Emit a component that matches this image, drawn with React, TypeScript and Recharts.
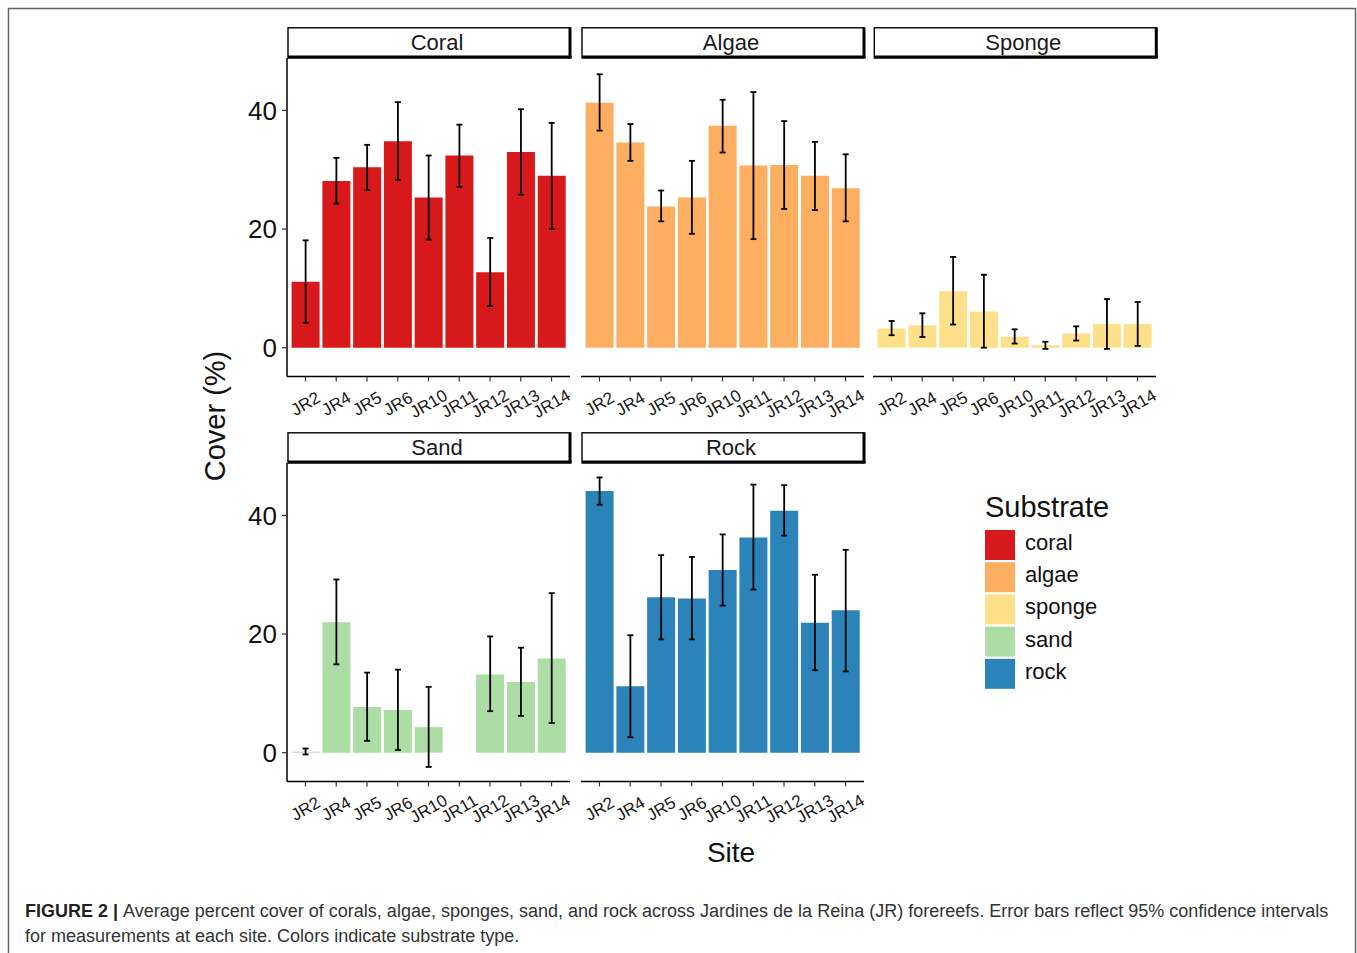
import { Bar, BarChart, ErrorBar, XAxis, YAxis } from "recharts";

const FONT = "'Liberation Sans', Arial, Helvetica, sans-serif";

const sites = ["JR2", "JR4", "JR5", "JR6", "JR10", "JR11", "JR12", "JR13", "JR14"];
const yTicks = [0, 20, 40];

// mean cover (%) and 95% CI bounds, per site
const coralMean = [11.1, 28.1, 30.4, 34.8, 25.3, 32.4, 12.7, 33.0, 29.0];
const coralLow = [4.2, 24.3, 26.6, 28.3, 18.2, 27.1, 7.0, 25.8, 20.0];
const coralHigh = [18.1, 32.0, 34.2, 41.4, 32.4, 37.6, 18.5, 40.2, 37.9];

const algaeMean = [41.3, 34.6, 23.8, 25.3, 37.4, 30.7, 30.8, 29.0, 26.9];
const algaeLow = [36.6, 31.5, 21.3, 19.2, 32.9, 18.3, 23.4, 23.2, 21.3];
const algaeHigh = [46.1, 37.7, 26.5, 31.5, 41.8, 43.1, 38.2, 34.7, 32.6];

const spongeMean = [3.25, 3.8, 9.5, 6.1, 1.85, 0.4, 2.4, 4.0, 4.0];
const spongeLow = [2.1, 1.8, 3.9, 0.0, 0.7, -0.2, 1.2, -0.2, 0.3];
const spongeHigh = [4.5, 5.8, 15.3, 12.3, 3.1, 1.0, 3.6, 8.2, 7.7];

const sandMean = [0.17, 22.0, 7.7, 7.2, 4.3, 0.0, 13.2, 11.9, 15.9];
const sandLow = [-0.3, 14.9, 2.0, 0.45, -2.4, 0.0, 7.0, 6.2, 5.0];
const sandHigh = [0.7, 29.2, 13.5, 14.0, 11.1, 0.0, 19.6, 17.7, 26.9];

const rockMean = [44.1, 11.2, 26.2, 26.0, 30.8, 36.3, 40.8, 21.9, 24.0];
const rockLow = [41.8, 2.6, 19.1, 19.1, 24.8, 27.5, 36.6, 13.9, 13.7];
const rockHigh = [46.4, 19.8, 33.3, 33.0, 36.8, 45.2, 45.1, 30.0, 34.2];

const substrates = [
  { key: "coral", title: "Coral", color: "#D7191C", mean: coralMean, low: coralLow, high: coralHigh },
  { key: "algae", title: "Algae", color: "#FDAE61", mean: algaeMean, low: algaeLow, high: algaeHigh },
  { key: "sponge", title: "Sponge", color: "#FEE08B", mean: spongeMean, low: spongeLow, high: spongeHigh },
  { key: "sand", title: "Sand", color: "#ABDDA4", mean: sandMean, low: sandLow, high: sandHigh },
  { key: "rock", title: "Rock", color: "#2B83BA", mean: rockMean, low: rockLow, high: rockHigh },
];

// shared y scale, like facet_wrap with 5% expansion
const allLow = Math.min(...substrates.flatMap((s) => s.low));
const allHigh = Math.max(...substrates.flatMap((s) => s.high));
const pad = (allHigh - allLow) * 0.05;
const yDomain = [allLow - pad, allHigh + pad];

const PANEL_W = 283;
const PLOT_H = 318.4;
const STRIP_H = 31;
const Y_AXIS_W = 70;
const X_AXIS_H = 60;
const RIGHT_ROOM = 16; // space for the last rotated tick label
const BAND_PAD = PANEL_W / 9.2 / 10;

const panelPos = [
  { left: 287, top: 58.3, showY: true },
  { left: 581, top: 58.3, showY: false },
  { left: 873.3, top: 58.3, showY: false },
  { left: 287, top: 463.3, showY: true },
  { left: 581, top: 463.3, showY: false },
];

function SiteTick(props: any) {
  const { x, y, payload } = props;
  return (
    <text
      x={x}
      y={y}
      dy={6}
      textAnchor="middle"
      transform={`rotate(-30 ${x} ${y})`}
      fontSize={17}
      fontFamily={FONT}
      fill="#1a1a1a"
    >
      {payload.value}
    </text>
  );
}

function Panel({ s, left, top, showY }: any) {
  const yW = showY ? Y_AXIS_W : 0;
  const data = sites.map((site, i) => ({
    site,
    mean: s.mean[i],
    err: [s.mean[i] - s.low[i], s.high[i] - s.mean[i]],
  }));
  return (
    <div style={{ position: "absolute", left: left - yW, top }}>
      <BarChart
        width={PANEL_W + yW + RIGHT_ROOM}
        height={PLOT_H + X_AXIS_H}
        data={data}
        margin={{ top: 0, right: RIGHT_ROOM, bottom: 0, left: 0 }}
        barCategoryGap="5%"
      >
        <XAxis
          dataKey="site"
          height={X_AXIS_H}
          interval={0}
          padding={{ left: BAND_PAD, right: BAND_PAD }}
          tickSize={5}
          tickMargin={22}
          tick={<SiteTick />}
          axisLine={{ stroke: "#000", strokeWidth: 1.5 }}
          tickLine={{ stroke: "#333", strokeWidth: 1.2 }}
        />
        <YAxis
          hide={!showY}
          width={yW}
          type="number"
          domain={yDomain}
          allowDataOverflow
          ticks={yTicks}
          tickSize={5}
          tickMargin={5}
          tick={{ fontSize: 26, fill: "#111", fontFamily: FONT }}
          axisLine={{ stroke: "#000", strokeWidth: 1.5 }}
          tickLine={{ stroke: "#333", strokeWidth: 1.2 }}
        />
        <Bar dataKey="mean" fill={s.color} isAnimationActive={false}>
          <ErrorBar dataKey="err" width={3} stroke="#000" strokeWidth={1.8} direction="y" />
        </Bar>
      </BarChart>
    </div>
  );
}

function Strip({ title, left, top }: any) {
  const x0 = left + 1;
  const y0 = top - STRIP_H;
  const w = PANEL_W - 1;
  return (
    <g>
      <rect x={x0} y={y0 + 0.5} width={w} height={STRIP_H - 1} fill="#fff" stroke="#000" strokeWidth={1.4} />
      <line x1={x0} x2={x0 + w + 1.5} y1={top - 1.2} y2={top - 1.2} stroke="#000" strokeWidth={3} />
      <line x1={x0 + w} x2={x0 + w} y1={y0} y2={top} stroke="#000" strokeWidth={3} />
      <text x={x0 + w / 2 + 8} y={y0 + 22.5} textAnchor="middle" fontSize={22} fontFamily={FONT} fill="#1a1a1a">
        {title}
      </text>
    </g>
  );
}

export default function App() {
  return (
    <div style={{ position: "fixed", left: 0, top: 0, width: 1357, height: 953, background: "#fff", overflow: "hidden" }}>
      {substrates.map((s, i) => (
        <Panel key={s.key} s={s} {...panelPos[i]} />
      ))}
      <svg
        width={1357}
        height={953}
        style={{ position: "absolute", left: 0, top: 0, pointerEvents: "none" }}
        fontFamily={FONT}
      >
        <rect x={8.5} y={8.5} width={1347} height={1000} fill="none" stroke="#666" strokeWidth={1.5} />
        {substrates.map((s, i) => (
          <Strip key={s.key} title={s.title} {...panelPos[i]} />
        ))}
        <text x={225} y={416} transform="rotate(-90 225 416)" textAnchor="middle" fontSize={29} fill="#111">
          Cover (%)
        </text>
        <text x={731} y={862} textAnchor="middle" fontSize={28} fill="#111">
          Site
        </text>
        <text x={985} y={517} fontSize={29} fill="#111">
          Substrate
        </text>
        {substrates.map((s, i) => (
          <g key={s.key}>
            <rect x={985} y={530 + i * 32.2} width={30} height={30} fill={s.color} />
            <text x={1025} y={550 + i * 32.2} fontSize={22} fill="#111">
              {s.key}
            </text>
          </g>
        ))}
        <text x={25} y={917} fontSize={18} fill="#333">
          <tspan fontWeight="bold" fill="#231f20">FIGURE 2 | </tspan>
          Average percent cover of corals, algae, sponges, sand, and rock across Jardines de la Reina (JR) forereefs. Error bars reflect 95% confidence intervals
        </text>
        <text x={25} y={942} fontSize={18} fill="#333">
          for measurements at each site. Colors indicate substrate type.
        </text>
      </svg>
    </div>
  );
}
